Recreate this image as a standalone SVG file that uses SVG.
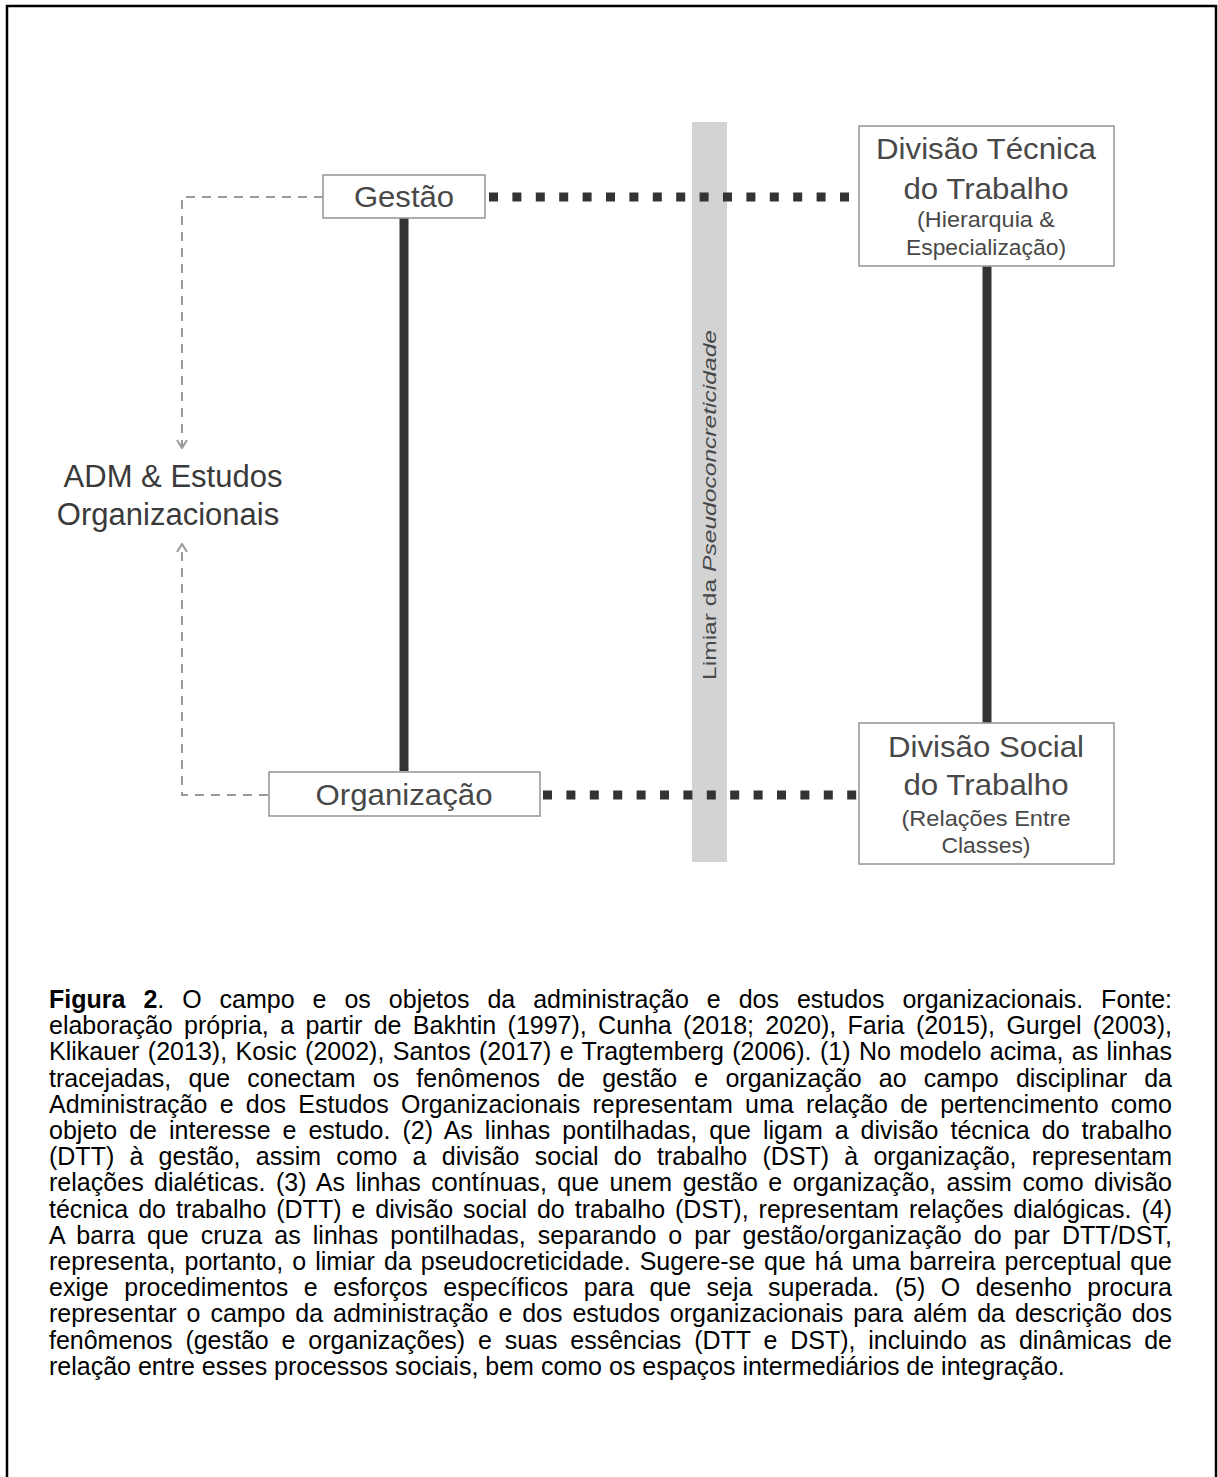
<svg xmlns="http://www.w3.org/2000/svg" width="1218" height="1477" viewBox="0 0 1218 1477">
<defs>
<style>
.box{fill:#fff;stroke:#9a9a9a;stroke-width:1.6}
.lbl{font-family:"Liberation Sans",Arial,sans-serif;fill:#484848;text-anchor:middle}
.big{font-size:30px}
.sub{font-size:22px}
.solid{stroke:#333;stroke-width:9;fill:none}
.dots{stroke:#333;stroke-width:9;stroke-dasharray:9 14.4;fill:none}
.dash{stroke:#9a9a9a;stroke-width:2;stroke-dasharray:9 7;fill:none}
.cap{font-family:"Liberation Sans",Arial,sans-serif;font-size:25px;fill:#000}
</style>
<marker id="chev" viewBox="0 0 12 12" refX="11" refY="6" markerWidth="12" markerHeight="12" markerUnits="userSpaceOnUse" orient="auto">
<path d="M3,1 L11,6 L3,11" fill="none" stroke="#9a9a9a" stroke-width="2"/>
</marker>
</defs>
<rect x="7" y="6" width="1209" height="1490" fill="#fff" stroke="#000" stroke-width="2.5"/>

<g id="barrier">
<rect x="692" y="122" width="35" height="740" fill="#d3d3d3"/>
<text class="lbl" font-size="18" transform="translate(716,505) rotate(-90)" textLength="350" lengthAdjust="spacingAndGlyphs">Limiar da <tspan font-style="italic">Pseudoconcreticidade</tspan></text>
</g>

<g id="connectors">
<path class="dash" d="M323,197 H182 V448" marker-end="url(#chev)"/>
<path class="dash" d="M268,795 H182 V544" marker-end="url(#chev)"/>
<line class="solid" x1="404" y1="218" x2="404" y2="771"/>
<line class="solid" x1="987" y1="266" x2="987" y2="723"/>
<line class="dots" x1="489" y1="197" x2="856" y2="197"/>
<line class="dots" x1="543" y1="795" x2="858" y2="795"/>
</g>

<g id="gestao">
<rect class="box" x="323" y="175" width="162" height="43"/>
<text class="lbl big" x="404" y="207" textLength="100" lengthAdjust="spacingAndGlyphs">Gestão</text>
</g>
<g id="organizacao">
<rect class="box" x="269" y="772" width="271" height="44"/>
<text class="lbl big" x="404" y="805" textLength="177" lengthAdjust="spacingAndGlyphs">Organização</text>
</g>
<g id="dtt">
<rect class="box" x="859" y="126" width="255" height="140"/>
<text class="lbl big" x="986" y="159" textLength="220" lengthAdjust="spacingAndGlyphs">Divisão Técnica</text>
<text class="lbl big" x="986" y="199" textLength="165" lengthAdjust="spacingAndGlyphs">do Trabalho</text>
<text class="lbl sub" x="986" y="227" textLength="138" lengthAdjust="spacingAndGlyphs">(Hierarquia &amp;</text>
<text class="lbl sub" x="986" y="255" textLength="160" lengthAdjust="spacingAndGlyphs">Especialização)</text>
</g>
<g id="dst">
<rect class="box" x="859" y="723" width="255" height="141"/>
<text class="lbl big" x="986" y="757" textLength="196" lengthAdjust="spacingAndGlyphs">Divisão Social</text>
<text class="lbl big" x="986" y="795" textLength="165" lengthAdjust="spacingAndGlyphs">do Trabalho</text>
<text class="lbl sub" x="986" y="826" textLength="169" lengthAdjust="spacingAndGlyphs">(Relações Entre</text>
<text class="lbl sub" x="986" y="853" textLength="89" lengthAdjust="spacingAndGlyphs">Classes)</text>
</g>
<g id="adm">
<text class="lbl" font-size="31" x="173" y="487" style="fill:#3a3a3a">ADM &amp; Estudos</text>
<text class="lbl" font-size="31" x="168" y="525" style="fill:#3a3a3a">Organizacionais</text>
</g>

<g id="caption" class="cap">
<text x="49" y="1008" word-spacing="11" textLength="1123" lengthAdjust="spacing"><tspan font-weight="bold">Figura 2</tspan>. O campo e os objetos da administração e dos estudos organizacionais. Fonte:</text>
<text x="49" y="1034.2" word-spacing="4.4" textLength="1123" lengthAdjust="spacing">elaboração própria, a partir de Bakhtin (1997), Cunha (2018; 2020), Faria (2015), Gurgel (2003),</text>
<text x="49" y="1060.4" word-spacing="1.4" textLength="1123" lengthAdjust="spacing">Klikauer (2013), Kosic (2002), Santos (2017) e Tragtemberg (2006). (1) No modelo acima, as linhas</text>
<text x="49" y="1086.6" word-spacing="10.2" textLength="1123" lengthAdjust="spacing">tracejadas, que conectam os fenômenos de gestão e organização ao campo disciplinar da</text>
<text x="49" y="1112.8" word-spacing="5.3" textLength="1123" lengthAdjust="spacing">Administração e dos Estudos Organizacionais representam uma relação de pertencimento como</text>
<text x="49" y="1139" word-spacing="5" textLength="1123" lengthAdjust="spacing">objeto de interesse e estudo. (2) As linhas pontilhadas, que ligam a divisão técnica do trabalho</text>
<text x="49" y="1165.2" word-spacing="8.3" textLength="1123" lengthAdjust="spacing">(DTT) à gestão, assim como a divisão social do trabalho (DST) à organização, representam</text>
<text x="49" y="1191.4" word-spacing="3.5" textLength="1123" lengthAdjust="spacing">relações dialéticas. (3) As linhas contínuas, que unem gestão e organização, assim como divisão</text>
<text x="49" y="1217.6" word-spacing="3" textLength="1123" lengthAdjust="spacing">técnica do trabalho (DTT) e divisão social do trabalho (DST), representam relações dialógicas. (4)</text>
<text x="49" y="1243.8" word-spacing="5" textLength="1123" lengthAdjust="spacing">A barra que cruza as linhas pontilhadas, separando o par gestão/organização do par DTT/DST,</text>
<text x="49" y="1270" word-spacing="2.1" textLength="1123" lengthAdjust="spacing">representa, portanto, o limiar da pseudocreticidade. Sugere-se que há uma barreira perceptual que</text>
<text x="49" y="1296.2" word-spacing="8.6" textLength="1123" lengthAdjust="spacing">exige procedimentos e esforços específicos para que seja superada. (5) O desenho procura</text>
<text x="49" y="1322.4" word-spacing="3" textLength="1123" lengthAdjust="spacing">representar o campo da administração e dos estudos organizacionais para além da descrição dos</text>
<text x="49" y="1348.6" word-spacing="5.9" textLength="1123" lengthAdjust="spacing">fenômenos (gestão e organizações) e suas essências (DTT e DST), incluindo as dinâmicas de</text>
<text x="49" y="1374.8">relação entre esses processos sociais, bem como os espaços intermediários de integração.</text>
</g>
</svg>
